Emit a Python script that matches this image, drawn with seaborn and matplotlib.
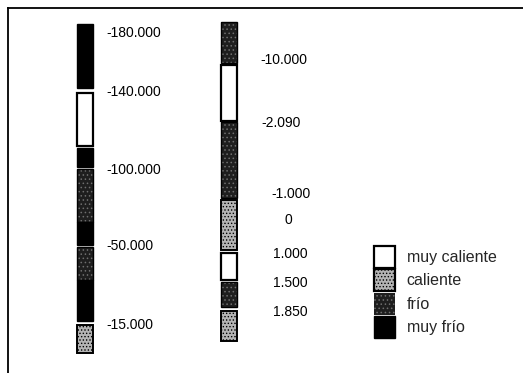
import matplotlib
matplotlib.use("Agg")
import matplotlib.pyplot as plt
from matplotlib.patches import Patch
import seaborn as sns

# ---------------- data ----------------
bar_names = ["izquierda", "derecha"]
categories = ["muy caliente", "caliente", "frío", "muy frío"]

# segments of the left column (top position and length, in position units)
left_cats = ["muy frío", "muy caliente", "muy frío", "frío", "muy frío", "frío", "muy frío", "caliente"]
left_top = [24, 93, 148, 169, 222, 247, 280, 325]
left_len = [64, 53, 19, 53, 23, 33, 41, 28]

# segments of the right column
right_cats = ["frío", "muy caliente", "frío", "caliente", "muy caliente", "frío", "caliente"]
right_top = [22, 65, 122, 200, 253, 282, 311]
right_len = [41, 56, 76, 50, 27, 25, 30]

left_labels = ["-180.000", "-140.000", "-100.000", "-50.000", "-15.000"]
right_labels = ["-10.000", "-2.090", "-1.000", "0", "1.000", "1.500", "1.850"]

# label placement (layout, not data)
left_label_y = [33, 92, 170, 246, 325]
left_label_dx = [0.146] * 5
right_label_y = [60, 123, 194, 220, 254, 283, 312]
right_label_dx = [0.215, 0.222, 0.292, 0.385, 0.306, 0.306, 0.306]

# ---------------- styles ----------------
styles = {
    "muy caliente": dict(facecolor="white", edgecolor="black", linewidth=1.6, hatch=None),
    "caliente": dict(facecolor="#b4b4b4", edgecolor="black", linewidth=1.4, hatch="....."),
    "frío": dict(facecolor="#1e1e1e", edgecolor="#6e6e6e", linewidth=0, hatch="...."),
    "muy frío": dict(facecolor="black", edgecolor="black", linewidth=1.0, hatch=None),
}

sns.set_theme(style="white")
plt.rcParams["font.family"] = ["Liberation Sans", "DejaVu Sans"]
plt.rcParams["hatch.linewidth"] = 0.6

W, H = 523, 373
fig = plt.figure(figsize=(W / 100, H / 100), dpi=100)
ax = fig.add_axes([8 / W, -0.05, 1.0, (1 - 8 / H) + 0.05])

bar_width = 0.118
for name, cats, tops, lens in [
    (bar_names[0], left_cats, left_top, left_len),
    (bar_names[1], right_cats, right_top, right_len),
]:
    for c, t, l in zip(cats, tops, lens):
        st = styles[c]
        sns.barplot(
            x=[name], y=[l], order=bar_names, bottom=t, width=bar_width,
            errorbar=None, ax=ax, facecolor=st["facecolor"],
            edgecolor=st["edgecolor"], linewidth=st["linewidth"],
            hatch=st["hatch"],
        )
        if c == "frío":
            # black outline around speckled segment
            sns.barplot(
                x=[name], y=[l], order=bar_names, bottom=t, width=bar_width,
                errorbar=None, ax=ax, facecolor="none",
                edgecolor="black", linewidth=1.0,
            )

for txt, y, dx in zip(left_labels, left_label_y, left_label_dx):
    ax.text(0 + dx, y, txt, ha="left", va="center", fontsize=10, color="black")
for txt, y, dx in zip(right_labels, right_label_y, right_label_dx):
    ax.text(1 + dx, y, txt, ha="left", va="center", fontsize=10, color="black")

# px mapping: category 0 at px 85, category 1 at px 229
scale = 144.0
ax.set_xlim((8 - 85) / scale, (8 + W - 85) / scale)
ax.set_ylim(8 + ax.get_position().height * H, 8)

ax.set_xticks([])
ax.set_yticks([])
ax.set_xlabel("")
ax.set_ylabel("")
for side in ["right", "bottom"]:
    ax.spines[side].set_visible(False)
for side in ["left", "top"]:
    ax.spines[side].set_visible(True)
    ax.spines[side].set_color("black")
    ax.spines[side].set_linewidth(1.3)

handles = []
for c in categories:
    st = styles[c]
    if c == "frío":
        handles.append(Patch(facecolor=st["facecolor"], edgecolor="#6e6e6e", hatch="....", linewidth=0))
    else:
        handles.append(Patch(facecolor=st["facecolor"], edgecolor="black",
                             linewidth=1.6 if c != "muy frío" else 1.0, hatch=st["hatch"]))

fig.legend(
    handles, categories, loc="upper left",
    bbox_to_anchor=(374 / W, 1 - 246 / H), bbox_transform=fig.transFigure,
    frameon=False, fontsize=11.5, handlelength=1.3, handleheight=1.72,
    labelspacing=0.1, handletextpad=0.75, borderpad=0, borderaxespad=0,
)

fig.savefig("out.png", dpi=100)
